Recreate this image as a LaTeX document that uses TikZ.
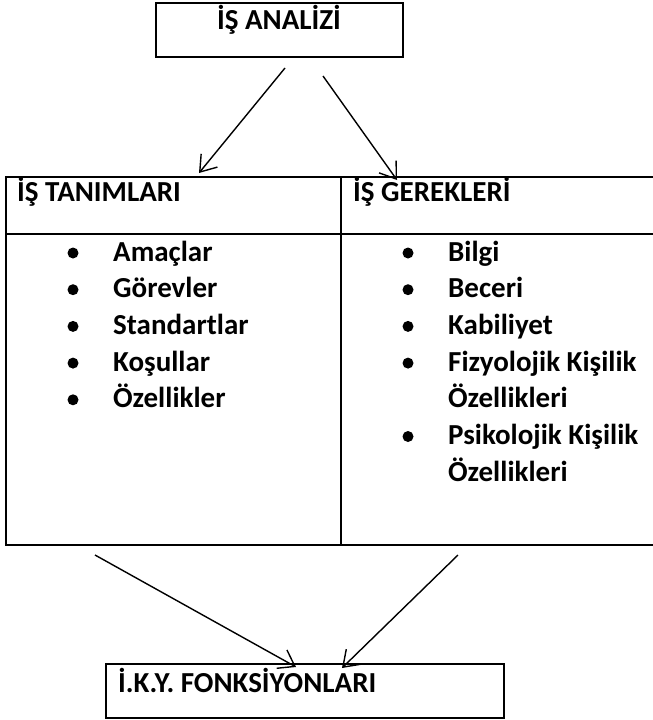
\documentclass[tikz,border=0pt]{standalone}
\usepackage{fontspec}
\setmainfont{Carlito}
\usetikzlibrary{arrows.meta}

\begin{document}
\begin{tikzpicture}[x=1pt, y=-1pt,
      every node/.style = {font=\fontsize{29}{35}\selectfont\bfseries, inner sep=0pt},
      kutu/.style = {draw, line width=2pt, anchor=north west},
      madde/.style = {circle, fill, minimum size=11pt},
      ok/.style = {line width=1.4pt, -{Straight Barb[length=15pt, width=21pt, line width=1.4pt]}}]
  \useasboundingbox (0,0) rectangle (653,720);

  \node[kutu, minimum width=247, minimum height=54] (analiz) at (155,2) {};
  \node[anchor=base] (analizyazi) at (279,29) {İŞ ANALİZİ};

  \node[kutu, minimum width=335, minimum height=57] (tanim) at (5,176) {};
  \node[kutu, minimum width=316, minimum height=57] (gerek) at (340,176) {};
  \node[kutu, minimum width=335, minimum height=311] (tanimliste) at (5,233) {};
  \node[kutu, minimum width=316, minimum height=311] (gerekliste) at (340,233) {};
  \node[anchor=base west] (tanimyazi) at (17,201) {İŞ TANIMLARI};
  \node[anchor=base west] (gerekyazi) at (353,201) {İŞ GEREKLERİ};

  \foreach \yazi [count=\i] in {Amaçlar, Görevler, Standartlar, Koşullar, Özellikler} {
    \node[madde] (sol\i) at (73, {253+36.7*(\i-1)}) {};
    \node[anchor=base west] (solyazi\i) at (113, {261+36.7*(\i-1)}) {\yazi};
  }
  \foreach \k/\yazi [count=\i] in {0/Bilgi, 1/Beceri, 2/Kabiliyet,
      3/Fizyolojik Kişilik, 5/Psikolojik Kişilik} {
    \node[madde] (sag\i) at (408, {253+36.7*\k}) {};
    \node[anchor=base west] (sagyazi\i) at (448, {261+36.7*\k}) {\yazi};
  }
  \node[anchor=base west] (sagyazi4b) at (448,{261+36.7*4}) {Özellikleri};
  \node[anchor=base west] (sagyazi5b) at (448,{261+36.7*6}) {Özellikleri};

  \node[kutu, minimum width=398, minimum height=54] (ikyf) at (105,663) {};
  \node[anchor=base west] (ikyfyazi) at (118,692) {İ.K.Y. FONKSİYONLARI};

  \coordinate (ust1) at (285,68);
  \coordinate (ust2) at (323,76);
  \coordinate (tanimok) at (199,173);
  \coordinate (gerekok) at (397,180);
  \coordinate (alt1) at (95,555);
  \coordinate (alt2) at (458,555);
  \coordinate (ikyfok1) at (296,667);
  \coordinate (ikyfok2) at (342,668);

  \draw[ok] (ust1) -- (tanimok);
  \draw[ok] (ust2) -- (gerekok);
  \draw[ok] (alt1) -- (ikyfok1);
  \draw[ok] (alt2) -- (ikyfok2);
\end{tikzpicture}
\end{document}
